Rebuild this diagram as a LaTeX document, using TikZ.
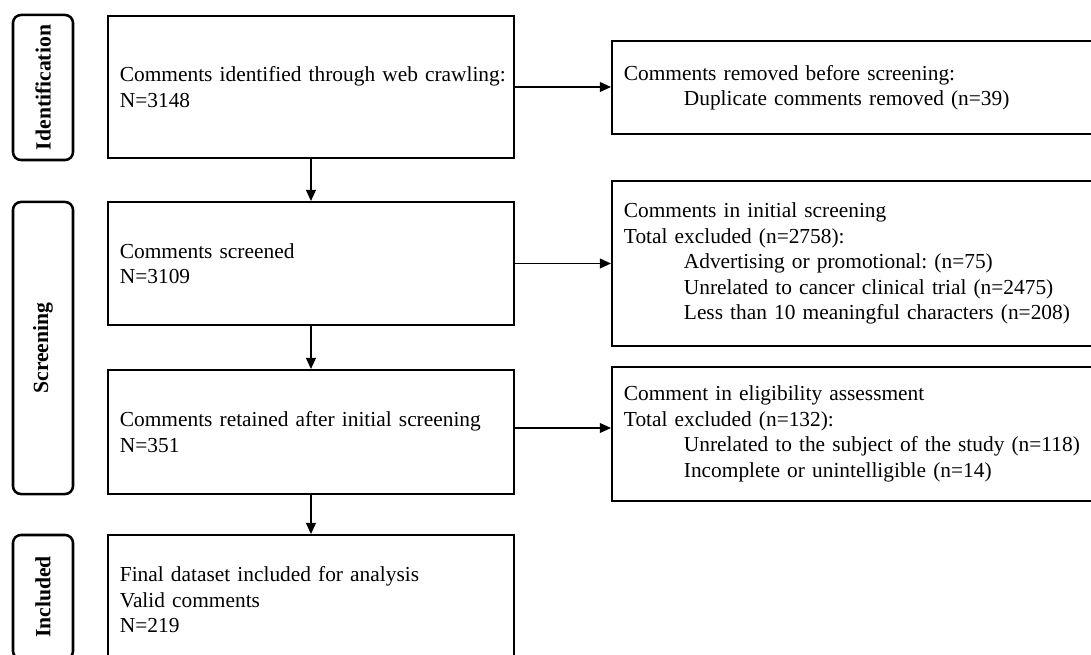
\documentclass[tikz,border=0pt]{standalone}
\usepackage{fontspec}
\setmainfont{Liberation Serif}
\usepackage{tikz}
\usetikzlibrary{shapes,arrows.meta,backgrounds,positioning}
\frenchspacing
\tikzset{
  flowbox/.style = {draw=black, line width=1.3pt, rectangle, align=left,
    inner xsep=0pt, text width=10.15cm,
    execute at begin node={\leftskip=0.3cm},
    font=\fontsize{15.2}{18.1}\selectfont},% boite principale
  exclbox/.style = {flowbox, text width=12.225cm},% boite exclus
  stagelab/.style = {draw=black, line width=1.8pt, rounded corners=0.2cm,
    rotate=90, minimum height=1.5cm, inner sep=0pt,
    font=\fontsize{15.4}{18.1}\selectfont\bfseries}% etape
}
\newcommand{\ind}{\hspace*{1.5cm}}

\begin{document}
\begin{tikzpicture}[x=0.025cm, y=-0.025cm, ->, >={Triangle[length=8pt,width=7pt]}, line width=1.2pt]
        \useasboundingbox (0,0) rectangle (1091,655);
        \clip (0,0) rectangle (1091,655);
        % etapes
        \node [stagelab, minimum width=3.625cm] (L1) at (43,87.5) {Identification};
        \node [stagelab, minimum width=7.3cm] (L2) at (43,348) {Screening};
        \node [stagelab, minimum width=3.1cm] (L3) at (43,597) {Included};
        % colonne principale
        \node [flowbox, minimum height=3.55cm, anchor=west] (A) at (107,87)
            {Comments identified through web crawling:\\N=3148};
        \node [flowbox, minimum height=3.075cm, anchor=west] (B) at (107,263.5)
            {Comments screened\\N=3109};
        \node [flowbox, minimum height=3.1cm, anchor=west] (C) at (107,432)
            {Comments retained after initial screening\\N=351};
        \node [flowbox, minimum height=3.25cm, anchor=west] (D) at (107,600)
            {Final dataset included for analysis\\Valid comments\\N=219};
        % exclusions
        \node [exclbox, minimum height=2.325cm, anchor=west] (E1) at (611,87.5)
            {Comments removed before screening:\\
             \ind Duplicate comments removed (n=39)};
        \node [exclbox, minimum height=4.125cm, anchor=west] (E2) at (611,263.5)
            {Comments in initial screening\\
             Total excluded (n=2758):\\
             \ind Advertising or promotional: (n=75)\\
             \ind Unrelated to cancer clinical trial (n=2475)\\
             \ind Less than 10 meaningful characters (n=208)};
        \node [exclbox, minimum height=3.35cm, anchor=west] (E3) at (611,434)
            {Comment in eligibility assessment\\
             Total excluded (n=132):\\
             \ind Unrelated to the subject of the study (n=118)\\
             \ind Incomplete or unintelligible (n=14)};
        \draw (A) -- (B);
        \draw (B) -- (C);
        \draw (C) -- (D);
        \draw (A.east) -- (A.east -| E1.west);
        \draw (B.east) -- (B.east -| E2.west);
        \draw ([yshift=0.1cm]C.east) -- ([yshift=0.1cm]C.east -| E3.west);
\end{tikzpicture}
\end{document}
